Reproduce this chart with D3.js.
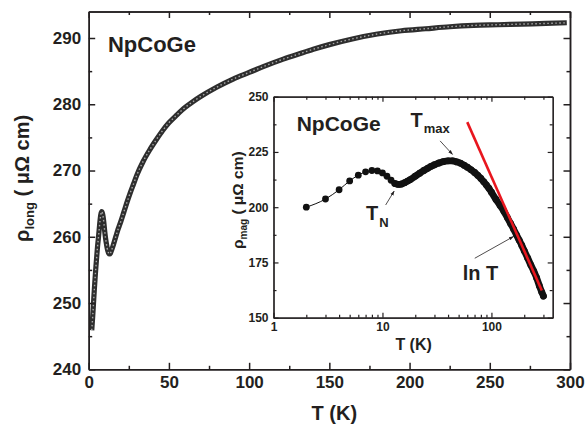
<!DOCTYPE html>
<html>
<head>
<meta charset="utf-8">
<script src="https://cdn.jsdelivr.net/npm/d3@7"></script>
<style>
  html, body { margin: 0; padding: 0; background: #fff; }
  svg { display: block; }
  text { font-family: "Liberation Sans", Arial, Helvetica, sans-serif; font-weight: bold; fill: #231f20; }
</style>
</head>
<body>
<svg id="chart" width="586" height="425"></svg>
<script>
// Longitudinal resistivity of NpCoGe, rho(T) in micro-ohm cm
const mainT = [1.9, 2.5, 3, 3.5, 4, 4.5, 5, 5.5, 6, 6.5, 7, 7.5, 8, 8.5, 9, 9.5, 10, 10.5, 11, 11.5,
  12, 12.5, 13, 13.5, 14, 15, 16, 17, 18, 19, 20, 22, 24, 26, 28, 30, 34, 38, 42, 46, 50, 55,
  60, 65, 70, 80, 90, 100, 110, 120, 130, 140, 150, 165, 180, 195, 210, 225, 240, 255, 270, 285, 298];
const mainRho = [245.9, 248, 250, 252, 253.8, 255.5, 257, 258.5, 259.7, 261, 262.3, 263.3, 263.8, 263.6, 263, 262, 260.8, 259.8, 259, 258.3,
  257.8, 257.5, 257.4, 257.5, 257.8, 258.5, 259.3, 260.1, 260.9, 261.6, 262.3, 263.8, 265.3, 266.7, 268, 269.3, 271.4, 273.1, 274.6, 276, 277.2, 278.4,
  279.5, 280.4, 281.2, 282.6, 283.8, 284.8, 285.8, 286.7, 287.5, 288.3, 289.0, 289.9, 290.6, 291.1, 291.4, 291.7, 291.9, 292, 292.1, 292.2, 292.3];

// Magnetic part rho_mag(T) shown in the inset (log T axis)
const magT = [2, 3, 4, 5, 6, 7, 8, 9, 10, 11, 12, 13, 14, 15, 16, 17, 18, 20, 22, 24, 26, 28, 30, 33, 36, 40, 44, 48,
  52, 56, 60, 65, 70, 75, 80, 85, 90, 95, 100, 110, 120, 130, 140, 150, 160, 170, 180, 190, 200, 215, 230, 245, 260, 275, 290, 300];
const magRho = [200, 203.7, 207.9, 211.9, 214.5, 216, 216.6, 216.4, 215.5, 214, 212.2, 210.7, 210.3, 210.5, 211.1, 211.8, 212.5, 214, 215.4, 216.6, 217.6, 218.5, 219.2, 220, 220.6, 221, 221, 220.5,
  219.9, 219, 218.1, 216.9, 215.7, 214.4, 213, 211.5, 210, 208.5, 206.8, 203.5, 200.8, 198.2, 195.3, 192.6, 190, 187.4, 185, 182.7, 180.3, 177, 173.8, 171, 168, 164.5, 161.5, 159.8];

// ln T fit segment
const fitT = [60, 290];
const fitRho = [238.5, 162.3];

// Tick values
const mainXTicks = [0, 50, 100, 150, 200, 250, 300];
const mainXMinor = [25, 75, 125, 175, 225, 275];
const mainYTicks = [240, 250, 260, 270, 280, 290];
const mainYMinor = [245, 255, 265, 275, 285];
const insetXTicks = [1, 10, 100];
const insetXMinor = [2, 3, 4, 5, 6, 7, 8, 9, 20, 30, 40, 50, 60, 70, 80, 90, 200, 300];
const insetYTicks = [150, 175, 200, 225, 250];
const insetYMinor = [162.5, 187.5, 212.5, 237.5];

const svg = d3.select("#chart");
const ink = "#231f20";

// ---------- main panel ----------
const M = { left: 88.7, right: 570, top: 11.5, bottom: 369.3 };
const x = d3.scaleLinear().domain([0, 300]).range([M.left, M.right]);
const y = d3.scaleLinear().domain([240, 294]).range([M.bottom, M.top]);

const mainG = svg.append("g");

// curve of open circles: dark outer band with a lighter dashed core
const mainData = mainT.map((t, i) => [t, mainRho[i]]);
const mainLine = d3.line().x(d => x(d[0])).y(d => y(d[1])).curve(d3.curveMonotoneX);
mainG.append("path").attr("d", mainLine(mainData))
  .attr("fill", "none").attr("stroke", "#2e2e2e").attr("stroke-width", 5.2).attr("stroke-linejoin", "round");
mainG.append("path").attr("d", mainLine(mainData))
  .attr("fill", "none").attr("stroke", "#a8a8a8").attr("stroke-width", 1.4)
  .attr("stroke-dasharray", "1.5 2.5");

function drawAxes(g, xs, ys, xMajor, xMinor, yMajor, yMinor, majLen, minLen, width, fmtX, fmtY, fsX, fsY, xPad, yPad) {
  const [x0, x1] = xs.range();
  const [y0, y1] = ys.range();
  const axB = d3.axisBottom(xs).tickValues(xMajor).tickSizeInner(-majLen).tickSizeOuter(0).tickPadding(majLen + xPad).tickFormat(fmtX);
  const axBm = d3.axisBottom(xs).tickValues(xMinor).tickSizeInner(-minLen).tickSizeOuter(0).tickFormat("");
  const axT = d3.axisTop(xs).tickValues(xMajor).tickSizeInner(-majLen).tickSizeOuter(0).tickFormat("");
  const axTm = d3.axisTop(xs).tickValues(xMinor).tickSizeInner(-minLen).tickSizeOuter(0).tickFormat("");
  const axL = d3.axisLeft(ys).tickValues(yMajor).tickSizeInner(-majLen).tickSizeOuter(0).tickPadding(majLen + yPad).tickFormat(fmtY);
  const axLm = d3.axisLeft(ys).tickValues(yMinor).tickSizeInner(-minLen).tickSizeOuter(0).tickFormat("");
  const axR = d3.axisRight(ys).tickValues(yMajor).tickSizeInner(-majLen).tickSizeOuter(0).tickFormat("");
  const axRm = d3.axisRight(ys).tickValues(yMinor).tickSizeInner(-minLen).tickSizeOuter(0).tickFormat("");
  const place = [
    [axB, `translate(0,${y0})`, fsX], [axBm, `translate(0,${y0})`],
    [axT, `translate(0,${y1})`], [axTm, `translate(0,${y1})`],
    [axL, `translate(${x0},0)`, fsY], [axLm, `translate(${x0},0)`],
    [axR, `translate(${x1},0)`], [axRm, `translate(${x1},0)`]
  ];
  place.forEach(([ax, tr, fs]) => {
    const a = g.append("g").attr("transform", tr).call(ax);
    a.selectAll("path.domain").attr("stroke", ink).attr("stroke-width", width);
    a.selectAll(".tick line").attr("stroke", ink).attr("stroke-width", width);
    if (fs) a.selectAll(".tick text").attr("font-size", fs).attr("fill", ink)
      .style("font-family", '"Liberation Sans", Arial, sans-serif').style("font-weight", "bold");
  });
}

drawAxes(mainG, x, y, mainXTicks, mainXMinor, mainYTicks, mainYMinor, 6.5, 3.5, 1.5,
  d3.format("d"), d3.format("d"), 17, 17, 0, 1);

// panel label
mainG.append("text").attr("x", x(12)).attr("y", 51.7).attr("font-size", 22).text("NpCoGe");

// axis titles
mainG.append("text").attr("x", (M.left + M.right) / 2 + 5).attr("y", 420)
  .attr("text-anchor", "middle").attr("font-size", 20).text("T (K)");
const yl = mainG.append("text").attr("transform", `translate(29,${(M.top + M.bottom) / 2 - 12}) rotate(-90)`)
  .attr("text-anchor", "middle").attr("font-size", 20);
yl.append("tspan").text("ρ");
yl.append("tspan").attr("font-size", 13).attr("dy", 5).text("long");
yl.append("tspan").attr("dy", -5).text(" ( μΩ cm)");

// ---------- inset ----------
const I = { left: 273.5, right: 552.7, top: 96.7, bottom: 317.7 };
const xi = d3.scaleLog().domain([1, 365]).range([I.left, I.right]);
const yi = d3.scaleLinear().domain([150, 250]).range([I.bottom, I.top]);

const inG = svg.append("g");
inG.append("rect").attr("x", I.left).attr("y", I.top)
  .attr("width", I.right - I.left).attr("height", I.bottom - I.top).attr("fill", "#fff");

const magData = magT.map((t, i) => [t, magRho[i]]);
const magLine = d3.line().x(d => xi(d[0])).y(d => yi(d[1])).curve(d3.curveMonotoneX);
// thin connecting line through all points
inG.append("path").attr("d", magLine(magData)).attr("fill", "none").attr("stroke", "#111").attr("stroke-width", 1);
// dense measurements merge into a solid band above the Neel point
inG.append("path").attr("d", magLine(magData.filter(d => d[0] >= 13)))
  .attr("fill", "none").attr("stroke", "#111").attr("stroke-width", 6.8).attr("stroke-linecap", "round").attr("stroke-linejoin", "round");
inG.selectAll("circle.mag").data(magData).enter().append("circle")
  .attr("class", "mag").attr("cx", d => xi(d[0])).attr("cy", d => yi(d[1])).attr("r", 3.4).attr("fill", "#111");

// ln T fit
inG.append("line")
  .attr("x1", xi(fitT[0])).attr("y1", yi(fitRho[0]))
  .attr("x2", xi(fitT[1])).attr("y2", yi(fitRho[1]))
  .attr("stroke", "#e8161e").attr("stroke-width", 2.6);

drawAxes(inG, xi, yi, insetXTicks, insetXMinor, insetYTicks, insetYMinor, 5, 3, 1.2,
  d3.format("d"), d3.format("d"), 12, 12, 0, 0);

// inset labels
inG.append("text").attr("x", 296.7).attr("y", 131).attr("font-size", 21).text("NpCoGe");

const tmax = inG.append("text").attr("x", 410.5).attr("y", 127.3).attr("font-size", 20);
tmax.append("tspan").text("T");
tmax.append("tspan").attr("font-size", 13).attr("dy", 6).attr("dx", 1).text("max");

const tn = inG.append("text").attr("x", 366).attr("y", 219.5).attr("font-size", 20);
tn.append("tspan").text("T");
tn.append("tspan").attr("font-size", 13).attr("dy", 7).attr("dx", 1).text("N");

inG.append("text").attr("x", 462.7).attr("y", 280).attr("font-size", 20).text("ln T");

inG.append("text").attr("x", (I.left + I.right) / 2 + 0.5).attr("y", 350)
  .attr("text-anchor", "middle").attr("font-size", 16).text("T (K)");
const yli = inG.append("text").attr("transform", `translate(243,${(I.top + I.bottom) / 2 - 7}) rotate(-90)`)
  .attr("text-anchor", "middle").attr("font-size", 15.5);
yli.append("tspan").text("ρ");
yli.append("tspan").attr("font-size", 10).attr("dy", 4).text("mag");
yli.append("tspan").attr("dy", -4).text(" ( μΩ cm)");

// annotation arrows (anchored in data coordinates)
const defs = svg.append("defs");
defs.append("marker").attr("id", "arr").attr("viewBox", "0 0 10 10").attr("refX", 9).attr("refY", 5)
  .attr("markerWidth", 6).attr("markerHeight", 6).attr("orient", "auto")
  .append("path").attr("d", "M0,1.5 L10,5 L0,8.5 Z").attr("fill", ink);

const arrows = [
  { from: [33.8, 230], to: [43.9, 223.9] },
  { from: [10.7, 201], to: [12.8, 207.3] },
  { from: [70.3, 176.9], to: [159, 186.7] }
];
inG.selectAll("line.arrow").data(arrows).enter().append("line").attr("class", "arrow")
  .attr("x1", d => xi(d.from[0])).attr("y1", d => yi(d.from[1]))
  .attr("x2", d => xi(d.to[0])).attr("y2", d => yi(d.to[1]))
  .attr("stroke", ink).attr("stroke-width", 0.8).attr("marker-end", "url(#arr)");
</script>
</body>
</html>
